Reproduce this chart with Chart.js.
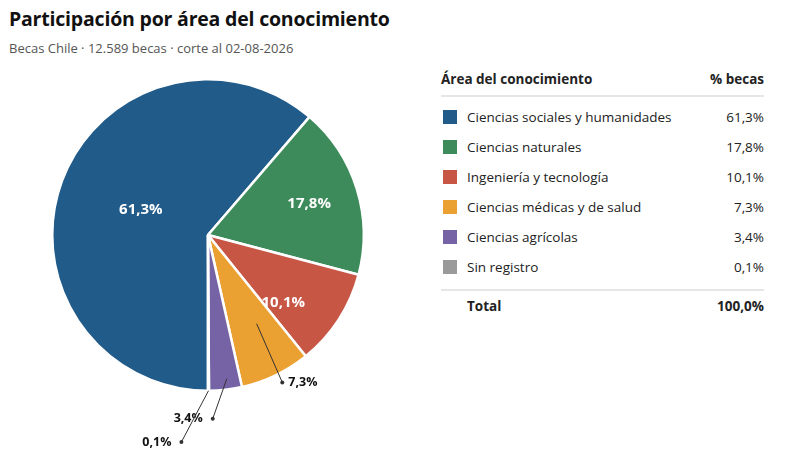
<!DOCTYPE html>
<html>
<head>
<meta charset="utf-8">
<script src="https://cdn.jsdelivr.net/npm/chart.js@4.4.1/dist/chart.umd.min.js"></script>
<style>
  body { margin: 0; background: #fff; font-family: "Open Sans", "Noto Sans", sans-serif; color: #222; }
  #wrap { position: relative; width: 796px; height: 455px; overflow: hidden; }
  h1 { position: absolute; left: 9px; top: 5px; margin: 0; font-size: 19.5px; font-weight: 700; color: #111; letter-spacing: -0.2px; }
  .sub { position: absolute; left: 9px; top: 39px; font-size: 13px; color: #555; }
  #chartBox { position: absolute; left: 0; top: 60px; width: 420px; height: 395px; }
  table { position: absolute; left: 441px; top: 69px; width: 323px; border-collapse: collapse; font-size: 13.5px; }
  th { font-weight: 700; text-align: left; padding: 0 0 6px 0; border-bottom: 2px solid #e6e6e6; height: 20px; }
  th.r, td.r { text-align: right; }
  td { height: 30px; padding: 0; }
  tbody tr:first-child td { padding-top: 5px; }
  tbody tr:last-child td { padding-bottom: 7px; }
  .sw { display: inline-block; width: 14px; height: 14px; vertical-align: -2px; margin: 0 10px 0 2px; }
  tfoot td { border-top: 2px solid #e6e6e6; font-weight: 700; height: 29px; padding-top: 0; }
</style>
</head>
<body>
<div id="wrap">
  <h1>Participación por área del conocimiento</h1>
  <div class="sub">Becas Chile · 12.589 becas · corte al 02-08-2026</div>
  <div id="chartBox"><canvas id="pie"></canvas></div>
  <table>
    <thead><tr><th>Área del conocimiento</th><th class="r">% becas</th></tr></thead>
    <tbody id="rows"></tbody>
    <tfoot><tr><td style="padding-left:26px">Total</td><td class="r" id="total"></td></tr></tfoot>
  </table>
</div>
<script>
const categories = [
  'Ciencias sociales y humanidades',
  'Ciencias naturales',
  'Ingeniería y tecnología',
  'Ciencias médicas y de salud',
  'Ciencias agrícolas',
  'Sin registro'
];
const shares = [61.3, 17.8, 10.1, 7.3, 3.4, 0.1];
const palette = ['#215b8a', '#3d8b5a', '#c85645', '#eba032', '#7563a5', '#9a9a9a'];

function pct(v) {
  return v.toFixed(1).replace('.', ',') + '%';
}

// table
const tbody = document.getElementById('rows');
categories.forEach((c, i) => {
  const tr = document.createElement('tr');
  tr.innerHTML = '<td><span class="sw" style="background:' + palette[i] + '"></span>' + c + '</td>' +
                 '<td class="r">' + pct(shares[i]) + '</td>';
  tbody.appendChild(tr);
});
document.getElementById('total').textContent = pct(shares.reduce((a, b) => a + b, 0));

// label placement: inside for big slices, leader lines for small ones
const inside = { 0: [0.46, 0], 1: [0.68, 0], 2: [0.65, 9] };
const leaders = {
  3: { rIn: 0.65, aIn: -3, rOut: 1.06, aOut: -1, side: 'right' },
  4: { rIn: 0.93, aIn: -1, rOut: 1.18, aOut: 5, side: 'left' },
  5: { rIn: 1.0, aIn: 0, rOut: 1.34, aOut: 7.5, side: 'left' }
};

const labelPlugin = {
  id: 'sliceLabels',
  afterDatasetsDraw(chart) {
    const ctx = chart.ctx;
    const deg = Math.PI / 180;
    const arcs = chart.getDatasetMeta(0).data;
    arcs.forEach((arc, i) => {
      const p = arc.getProps(['x', 'y', 'startAngle', 'endAngle', 'outerRadius'], true);
      const mid = (p.startAngle + p.endAngle) / 2;
      const R = p.outerRadius;
      const at = (r, a) => ({ x: p.x + Math.cos(a) * r, y: p.y + Math.sin(a) * r });
      const txt = pct(shares[i]);
      ctx.save();
      if (inside[i] !== undefined) {
        const q = at(R * inside[i][0], mid + inside[i][1] * deg);
        ctx.font = '700 15px "Open Sans", sans-serif';
        ctx.fillStyle = '#fff';
        ctx.textAlign = 'center';
        ctx.textBaseline = 'middle';
        ctx.fillText(txt, q.x, q.y);
      } else if (leaders[i]) {
        const L = leaders[i];
        const a = at(R * L.rIn, mid + L.aIn * deg);
        const b = at(R * L.rOut, mid + L.aOut * deg);
        ctx.strokeStyle = '#333';
        ctx.lineWidth = 1;
        ctx.beginPath();
        ctx.moveTo(a.x, a.y);
        ctx.lineTo(b.x, b.y);
        ctx.stroke();
        ctx.fillStyle = '#333';
        ctx.beginPath();
        ctx.arc(b.x, b.y, 2, 0, Math.PI * 2);
        ctx.fill();
        ctx.font = '700 12.5px "Open Sans", sans-serif';
        ctx.fillStyle = '#111';
        ctx.textBaseline = 'middle';
        if (L.side === 'right') {
          ctx.textAlign = 'left';
          ctx.fillText(txt, b.x + 6, b.y);
        } else {
          ctx.textAlign = 'right';
          ctx.fillText(txt, b.x - 10, b.y);
        }
      }
      ctx.restore();
    });
  }
};

new Chart(document.getElementById('pie'), {
  type: 'pie',
  data: {
    labels: categories,
    datasets: [{
      data: shares,
      backgroundColor: palette,
      borderColor: '#fff',
      borderWidth: 2.5,
      hoverOffset: 0
    }]
  },
  options: {
    responsive: true,
    maintainAspectRatio: false,
    animation: false,
    rotation: 180,
    layout: { padding: { left: 51, right: 55, top: 18, bottom: 63 } },
    plugins: {
      legend: { display: false },
      tooltip: { enabled: false }
    }
  },
  plugins: [labelPlugin]
});
</script>
</body>
</html>
